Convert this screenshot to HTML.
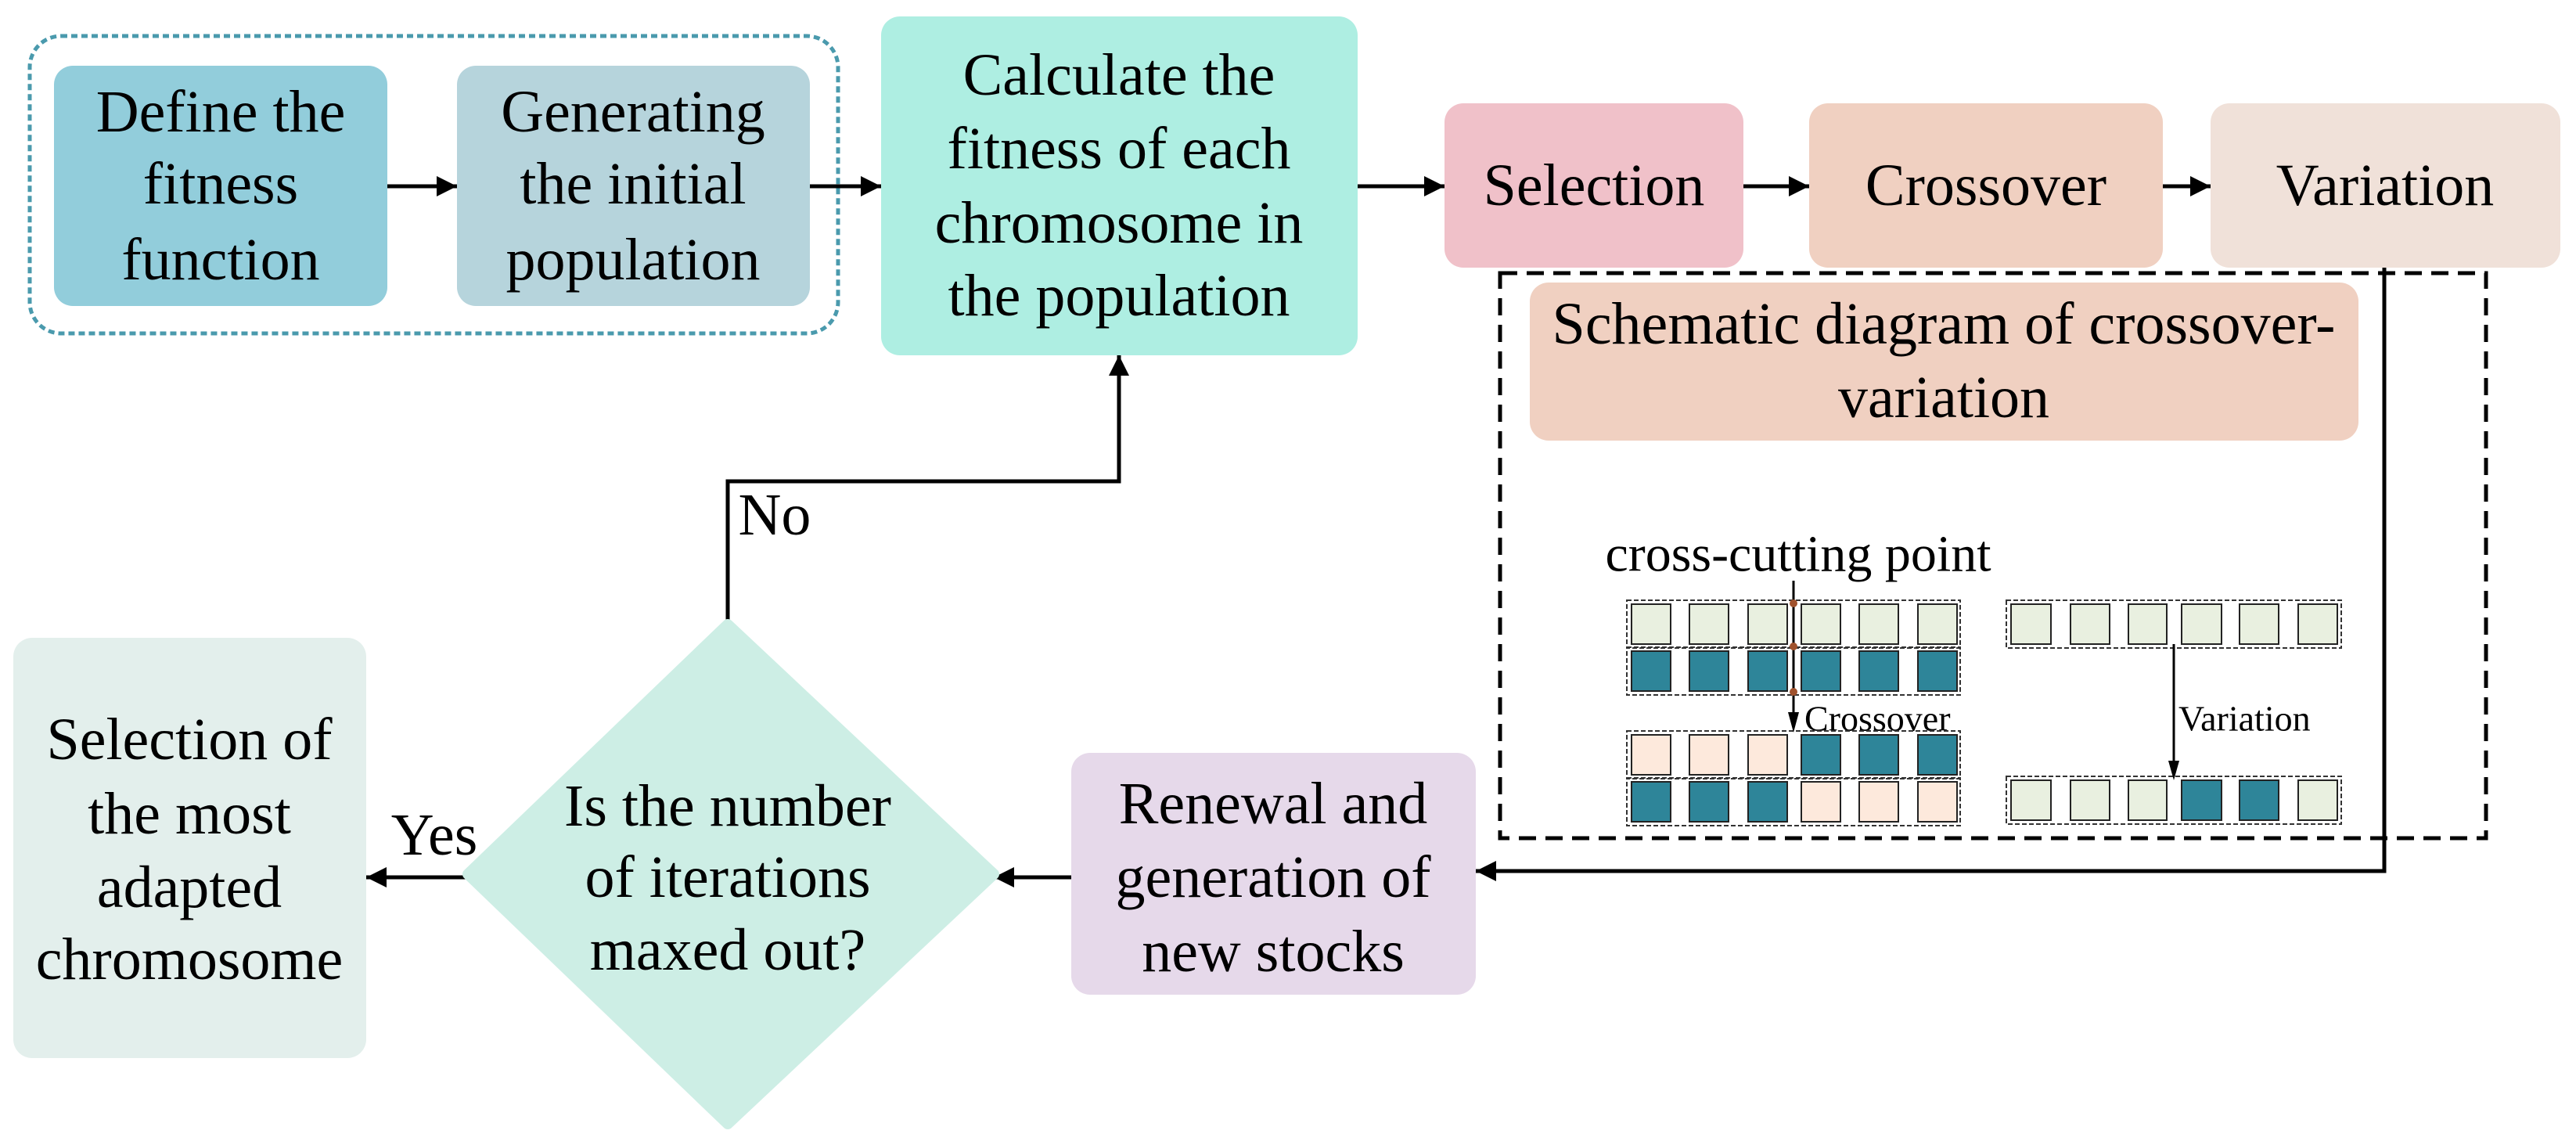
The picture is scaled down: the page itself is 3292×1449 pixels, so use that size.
<!DOCTYPE html>
<html><head><meta charset="utf-8"><style>
html,body{margin:0;padding:0;background:#fff;}
svg{display:block;}
svg text{font-family:"Liberation Serif","DejaVu Serif",serif;fill:#000;}
</style></head><body>
<svg width="3292" height="1449" viewBox="0 0 3292 1449" xmlns="http://www.w3.org/2000/svg">
<defs>
<marker id="ab" viewBox="0 0 10 10" refX="10" refY="5" markerWidth="26" markerHeight="26" orient="auto" markerUnits="userSpaceOnUse"><path d="M0,0 L10,5 L0,10 z" fill="#000"/></marker>
</defs>
<g font-family="Liberation Serif, serif" font-size="76" text-anchor="middle" dominant-baseline="central">
<rect x="38" y="46" width="1033" height="380" rx="40" fill="none" stroke="#4a9aad" stroke-width="5" stroke-dasharray="8,5"/>
<rect x="69" y="84" width="426" height="307" rx="24" fill="#92cddb"/>
<text x="282" y="143">Define the</text><text x="282" y="235">fitness</text><text x="282" y="332">function</text>
<rect x="584" y="84" width="451" height="307" rx="24" fill="#b6d4dc"/>
<text x="809" y="143">Generating</text><text x="809" y="235">the initial</text><text x="809" y="332">population</text>
<rect x="1126" y="21" width="609" height="433" rx="24" fill="#aeeee2"/>
<text x="1430" y="96">Calculate the</text><text x="1430" y="190">fitness of each</text><text x="1430" y="285">chromosome in</text><text x="1430" y="378">the population</text>
<rect x="1846" y="132" width="382" height="210" rx="24" fill="#f0c1c9"/>
<text x="2037" y="237">Selection</text>
<rect x="2312" y="132" width="452" height="210" rx="24" fill="#f0d0c1"/>
<text x="2538" y="237">Crossover</text>
<rect x="2825" y="132" width="447" height="210" rx="24" fill="#f0e1d9"/>
<text x="3048" y="237">Variation</text>
<g stroke="#000" stroke-width="5" fill="none">
<line x1="495" y1="238" x2="584" y2="238" marker-end="url(#ab)"/>
<line x1="1035" y1="238" x2="1126" y2="238" marker-end="url(#ab)"/>
<line x1="1735" y1="238" x2="1846" y2="238" marker-end="url(#ab)"/>
<line x1="2228" y1="238" x2="2312" y2="238" marker-end="url(#ab)"/>
<line x1="2764" y1="238" x2="2825" y2="238" marker-end="url(#ab)"/>
<polyline points="3047,342 3047,1113 1886,1113" marker-end="url(#ab)"/>
<line x1="1369" y1="1121" x2="1270" y2="1121" marker-end="url(#ab)"/>
<line x1="598" y1="1121" x2="468" y2="1121" marker-end="url(#ab)"/>
<polyline points="930,798 930,615 1430,615 1430,454" marker-end="url(#ab)"/>
</g>
<rect x="1917" y="349" width="1260" height="722" fill="none" stroke="#000" stroke-width="5" stroke-dasharray="22,12"/>
<rect x="1955" y="361" width="1059" height="202" rx="24" fill="#f0d0c1"/>
<text x="2484" y="414">Schematic diagram of crossover-</text><text x="2484" y="508">variation</text>
<rect x="1369" y="962" width="517" height="309" rx="24" fill="#e6d9ea"/>
<text x="1627" y="1027">Renewal and</text><text x="1627" y="1121">generation of</text><text x="1627" y="1216">new stocks</text>
<path d="M930,798 L1270,1117 L930,1436 L598,1117 Z" fill="#cdeee5" stroke="#cdeee5" stroke-width="14" stroke-linejoin="round"/>
<text x="930" y="1030">Is the number</text><text x="930" y="1121">of iterations</text><text x="930" y="1214">maxed out?</text>
<rect x="17" y="815" width="451" height="537" rx="24" fill="#e3efec"/>
<text x="242" y="945">Selection of</text><text x="242" y="1040">the most</text><text x="242" y="1134">adapted</text><text x="242" y="1226">chromosome</text>
<text x="555" y="1067">Yes</text>
<text x="990" y="658">No</text>
<text x="2298" y="708" font-size="66">cross-cutting point</text>
<text x="2306" y="918" font-size="46" text-anchor="start">Crossover</text>
<text x="2784" y="918" font-size="46" text-anchor="start">Variation</text>
</g>
<g stroke-width="2">
<g stroke="#333" fill="none" stroke-dasharray="6,3">
<rect x="2079" y="767" width="426" height="61"/>
<rect x="2079" y="827" width="426" height="61"/>
<rect x="2079" y="934" width="426" height="61"/>
<rect x="2079" y="994" width="426" height="61"/>
<rect x="2564" y="767" width="428" height="61"/>
<rect x="2564" y="992" width="428" height="61"/>
</g>
<g stroke="#222">
<rect x="2085" y="772" width="50" height="51" fill="#e9f0e0"/><rect x="2159" y="772" width="50" height="51" fill="#e9f0e0"/><rect x="2234" y="772" width="50" height="51" fill="#e9f0e0"/><rect x="2302" y="772" width="50" height="51" fill="#e9f0e0"/><rect x="2376" y="772" width="50" height="51" fill="#e9f0e0"/><rect x="2451" y="772" width="50" height="51" fill="#e9f0e0"/>
<rect x="2085" y="832" width="50" height="51" fill="#2e8599"/><rect x="2159" y="832" width="50" height="51" fill="#2e8599"/><rect x="2234" y="832" width="50" height="51" fill="#2e8599"/><rect x="2302" y="832" width="50" height="51" fill="#2e8599"/><rect x="2376" y="832" width="50" height="51" fill="#2e8599"/><rect x="2451" y="832" width="50" height="51" fill="#2e8599"/>
<rect x="2085" y="939" width="50" height="51" fill="#fde9dc"/><rect x="2159" y="939" width="50" height="51" fill="#fde9dc"/><rect x="2234" y="939" width="50" height="51" fill="#fde9dc"/><rect x="2302" y="939" width="50" height="51" fill="#2e8599"/><rect x="2376" y="939" width="50" height="51" fill="#2e8599"/><rect x="2451" y="939" width="50" height="51" fill="#2e8599"/>
<rect x="2085" y="999" width="50" height="51" fill="#2e8599"/><rect x="2159" y="999" width="50" height="51" fill="#2e8599"/><rect x="2234" y="999" width="50" height="51" fill="#2e8599"/><rect x="2302" y="999" width="50" height="51" fill="#fde9dc"/><rect x="2376" y="999" width="50" height="51" fill="#fde9dc"/><rect x="2451" y="999" width="50" height="51" fill="#fde9dc"/>
<rect x="2570" y="772" width="51" height="51" fill="#e9f0e0"/><rect x="2646" y="772" width="50" height="51" fill="#e9f0e0"/><rect x="2720" y="772" width="49" height="51" fill="#e9f0e0"/><rect x="2788" y="772" width="51" height="51" fill="#e9f0e0"/><rect x="2862" y="772" width="50" height="51" fill="#e9f0e0"/><rect x="2937" y="772" width="50" height="51" fill="#e9f0e0"/>
<rect x="2570" y="997" width="51" height="51" fill="#e9f0e0"/><rect x="2646" y="997" width="50" height="51" fill="#e9f0e0"/><rect x="2720" y="997" width="49" height="51" fill="#e9f0e0"/><rect x="2788" y="997" width="51" height="51" fill="#2e8599"/><rect x="2862" y="997" width="50" height="51" fill="#2e8599"/><rect x="2937" y="997" width="50" height="51" fill="#e9f0e0"/>
</g>
</g>
<g stroke="#000" stroke-width="3" fill="none">
<line x1="2292" y1="742" x2="2292" y2="915"/>
<line x1="2778" y1="823" x2="2778" y2="978"/>
</g>
<path d="M2285,910 L2299,910 L2292,936 Z" fill="#000"/>
<path d="M2771,972 L2785,972 L2778,997 Z" fill="#000"/>
<g fill="#a0522d"><circle cx="2292" cy="771" r="5"/><circle cx="2292" cy="826" r="5"/><circle cx="2292" cy="884" r="5"/></g>
</svg>
</body></html>
